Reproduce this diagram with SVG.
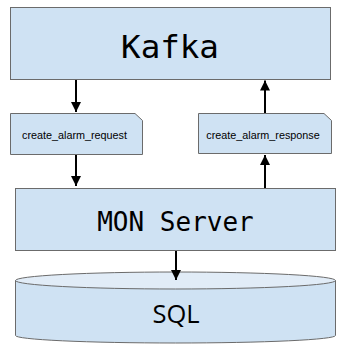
<svg xmlns="http://www.w3.org/2000/svg" width="349" height="350" viewBox="0 0 349 350">
  <style>
    .box { fill: #cfe2f3; stroke: #6b6b6b; stroke-width: 1; }
    .top { fill: #e1ecf7; stroke: #6b6b6b; stroke-width: 1; }
    .mono { font-family: "DejaVu Sans Mono", "Liberation Mono", monospace; fill: #000; text-anchor: middle; }
    .small { font-family: "Liberation Sans", Arial, sans-serif; font-size: 10.8px; fill: #000; text-anchor: middle; }
    .sans { font-family: "Open Sans", "DejaVu Sans", sans-serif; fill: #000; text-anchor: middle; }
    .edge { stroke: #000; stroke-width: 2; fill: none; marker-end: url(#arrow); }
  </style>
  <defs>
    <marker id="arrow" viewBox="0 0 10 10" refX="10" refY="5" markerWidth="5" markerHeight="5.5" markerUnits="strokeWidth" orient="auto">
      <path d="M0,0 L10,5 L0,10 Z" fill="#000"/>
    </marker>
  </defs>
  <rect width="349" height="350" fill="#fff"/>

  <g id="kafka">
    <rect class="box" x="10.5" y="7.5" width="320" height="72"/>
    <text class="mono" x="170" y="57.5" font-size="32.5">Kafka</text>
  </g>

  <g id="create_alarm_request">
    <path class="box" d="M10.5,113.5 H135 L142.5,120.5 V154.5 H10.5 Z"/>
    <text class="small" x="74.5" y="139">create_alarm_request</text>
  </g>

  <g id="create_alarm_response">
    <path class="box" d="M198.5,113.5 H324 L331.5,120.5 V153.5 H198.5 Z"/>
    <text class="small" x="263" y="139">create_alarm_response</text>
  </g>

  <g id="mon_server">
    <rect class="box" x="15.5" y="188.5" width="320" height="62"/>
    <text class="mono" x="175.5" y="231" font-size="26">MON Server</text>
  </g>

  <g id="sql">
    <path class="box" d="M15.5,280.5 V335.5 A160,7.5 0 0 0 335.5,335.5 V280.5 Z"/>
    <ellipse class="top" cx="175.5" cy="280.5" rx="160" ry="8.5"/>
    <text class="sans" x="176" y="323" font-size="25.5">SQL</text>
  </g>

  <g id="connectors">
    <line class="edge" x1="76" y1="80" x2="76" y2="112"/>
    <line class="edge" x1="76" y1="155" x2="76" y2="186"/>
    <line class="edge" x1="265" y1="188" x2="265" y2="155"/>
    <line class="edge" x1="265" y1="113" x2="265" y2="80.5"/>
    <line class="edge" x1="176" y1="251" x2="176" y2="280"/>
  </g>
</svg>
